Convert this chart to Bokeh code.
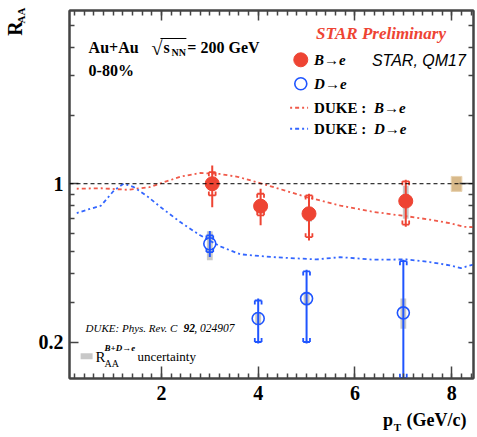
import numpy as np
from bokeh.plotting import figure
from bokeh.models import (FixedTicker, LinearAxis, LogAxis, Span, Label,
                          BoxAnnotation, CustomJSTickFormatter,
                          CustomLabelingPolicy)
from bokeh.embed import file_html
from bokeh.resources import INLINE

# ---------------- data ----------------
b_pt = [3.05, 4.05, 5.05, 7.05]
b_raa = [1.00, 0.796, 0.737, 0.838]
b_stat_hi = [1.205, 0.95, 0.903, 1.04]
b_stat_lo = [0.788, 0.655, 0.562, 0.645]
b_sys_hi = [1.125, 0.903, 0.888, 1.025]
b_sys_lo = [0.888, 0.725, 0.581, 0.66]
b_unc_hi = [1.07, 0.85, 0.79, 0.98]
b_unc_lo = [0.93, 0.74, 0.68, 0.70]

d_pt = [3.0, 4.0, 5.0, 7.0]
d_raa = [0.543, 0.254, 0.311, 0.269]
d_stat_hi = [0.618, 0.311, 0.417, 0.462]
d_stat_lo = [0.475, 0.197, 0.197, 0.05]
d_sys_hi = [0.591, 0.305, 0.41, 0.455]
d_sys_lo = [0.499, 0.200, 0.200, 0.139]
d_unc_hi = [0.617, 0.271, 0.333, 0.311]
d_unc_lo = [0.459, 0.237, 0.290, 0.229]

norm_pt = [8.1]
norm_hi = [1.077]
norm_lo = [0.925]

duke_b_pt = [0.25, 0.75, 1.3, 1.75, 2.05, 2.4, 2.8, 3.2, 3.6, 4.2, 5.0, 5.7,
             6.4, 7.1, 7.55, 7.95, 8.25, 8.45]
duke_b_raa = [0.95, 0.955, 0.94, 0.965, 1.015, 1.075, 1.115, 1.105, 1.07, 0.983,
              0.873, 0.80, 0.75, 0.717, 0.694, 0.67, 0.645, 0.643]
duke_d_pt = [0.25, 0.47, 0.75, 1.02, 1.22, 1.43, 1.71, 1.98, 2.39, 2.8, 3.22,
             3.63, 4.32, 5.21, 5.69, 6.38, 7.07, 7.55, 7.96, 8.19, 8.45]
duke_d_raa = [0.742, 0.768, 0.80, 0.934, 1.0, 0.966, 0.879, 0.789, 0.677, 0.592,
              0.528, 0.488, 0.474, 0.463, 0.474, 0.462, 0.463, 0.451, 0.436,
              0.424, 0.44]

x_major = [2, 4, 6, 8]
x_minor = [round(0.2 * i, 1) for i in range(1, 43)]
y_major = [0.2, 1]
y_minor = [0.3, 0.4, 0.5, 0.6, 0.7, 0.8, 0.9, 2, 3, 4, 5]

RED = "#ee4433"
BLUE = "#1f55ff"
GREY = "#c8c8c8"
AXC = "#444444"
SERIF = "Liberation Serif"


# page-pixel -> data helpers (for annotation placement only)
def dx(px):
    return 2 + (px - 161) / 48.5


def dy(py):
    return 10 ** ((183.3 - py) / 226.6)


p = figure(width=477, height=437, x_range=(0.1, 8.45), y_range=(0.138, 5.82),
           y_axis_type="log", output_backend="svg", toolbar_location=None,
           min_border_left=69, min_border_right=3, min_border_top=10,
           min_border_bottom=59)
p.grid.visible = False
p.outline_line_color = AXC
p.outline_line_width = 2
p.background_fill_color = "white"


def style_axis(ax, maj_in, min_in, labels=True):
    ax.major_tick_in = maj_in
    ax.major_tick_out = 0
    ax.minor_tick_in = min_in
    ax.minor_tick_out = 0
    ax.axis_line_color = AXC
    ax.axis_line_width = 2
    ax.major_tick_line_color = AXC
    ax.minor_tick_line_color = AXC
    ax.major_tick_line_width = 1.5
    ax.minor_tick_line_width = 1.5
    ax.major_label_text_font = SERIF
    ax.major_label_text_font_style = "bold"
    ax.major_label_text_font_size = "20px"
    ax.major_label_text_color = "black"
    if not labels:
        ax.major_label_policy = CustomLabelingPolicy(
            code="for (const i of indices) { indices.unset(i) }")
        ax.major_label_standoff = 0
        ax.major_label_text_font_size = "1px"


xt = FixedTicker(ticks=x_major, minor_ticks=x_minor)
yt = FixedTicker(ticks=y_major, minor_ticks=y_minor)

xa = p.xaxis[0]
xa.ticker = xt
style_axis(xa, 12, 5)
xa.major_label_standoff = 7

ya = p.yaxis[0]
ya.ticker = yt
ya.formatter = CustomJSTickFormatter(code="return tick.toString();")
style_axis(ya, 9, 5)
ya.major_label_standoff = 6

top = LinearAxis(ticker=FixedTicker(ticks=x_major, minor_ticks=x_minor))
style_axis(top, 10, 5, labels=False)
p.add_layout(top, "above")

right = LogAxis(ticker=FixedTicker(ticks=[1], minor_ticks=[0.2] + y_minor))
style_axis(right, 14, 5, labels=False)
p.add_layout(right, "right")

# uncertainty boxes (grey)
wq = 0.06
p.quad(left=np.array(d_pt) - wq, right=np.array(d_pt) + wq, bottom=d_unc_lo,
       top=d_unc_hi, fill_color=GREY, line_color=None)
p.quad(left=np.array(b_pt) - wq, right=np.array(b_pt) + wq, bottom=b_unc_lo,
       top=b_unc_hi, fill_color=GREY, line_color=None)

# normalization box
p.quad(left=np.array(norm_pt) - 0.11, right=np.array(norm_pt) + 0.11,
       bottom=norm_lo, top=norm_hi, fill_color="#d8b98a", line_color="#e8d2b0")

# model curves
p.line(duke_b_pt, duke_b_raa, line_color="#f05a4a", line_width=1.8,
       line_dash="2 3 4 3")
p.line(duke_d_pt, duke_d_raa, line_color="#3366ff", line_width=1.8,
       line_dash="2 3 4 3")

p.add_layout(Span(location=1, dimension="width", line_color="black",
                  line_width=1, line_dash="4 3"))


def brackets(x, hi, lo, color):
    x = np.array(x, dtype=float)
    hi = np.array(hi, dtype=float)
    lo = np.array(lo, dtype=float)
    w = 0.07
    leg = 10 ** (4 / 226.6)
    x0 = np.concatenate([x - w, x - w, x + w, x - w, x - w, x + w])
    x1 = np.concatenate([x + w, x - w, x + w, x + w, x - w, x + w])
    y0 = np.concatenate([hi, hi, hi, lo, lo, lo])
    y1 = np.concatenate([hi, hi / leg, hi / leg, lo, lo * leg, lo * leg])
    p.segment(x0, y0, x1, y1, line_color=color, line_width=1.8)


# stat errors
p.segment(b_pt, b_stat_lo, b_pt, b_stat_hi, line_color=RED, line_width=2)
p.segment(d_pt, d_stat_lo, d_pt, d_stat_hi, line_color=BLUE, line_width=2)
brackets(b_pt, b_sys_hi, b_sys_lo, RED)
brackets(d_pt, d_sys_hi, d_sys_lo, BLUE)

p.scatter(b_pt, b_raa, size=14, fill_color=RED, line_color=RED)
p.scatter(d_pt, d_raa, size=12, fill_color=None, line_color=BLUE, line_width=1.6)


def lab(text, px, py, size, style="normal", font=SERIF, color="black",
        align="left", angle=0, place="center"):
    lbl = Label(x=dx(px), y=dy(py), text=text, text_font=font,
                text_font_size=f"{size}px", text_font_style=style,
                text_color=color, text_align=align,
                text_baseline="middle", angle=angle)
    if place == "center":
        p.add_layout(lbl)
    else:
        p.add_layout(lbl, place)


# header texts
lab("Au+Au", 88, 47, 16, "bold")
lab("√", 151, 47, 20)
p.add_layout(BoxAnnotation(left=dx(160), right=dx(186), bottom=dy(38.4),
                           top=dy(37.4), fill_color="black", fill_alpha=1,
                           line_color=None))
lab("s", 163, 47, 16, "bold")
lab("NN", 171, 52, 10, "bold")
lab("= 200 GeV", 187, 47, 16, "bold")
lab("0-80%", 88, 70, 16, "bold")

lab("STAR Preliminary", 316, 33, 17, "bold italic", color=RED)
lab("STAR, QM17", 372, 60, 16, "italic", font="Liberation Sans")

# legend markers
p.scatter([dx(300.7)], [dy(59.3)], size=14, fill_color=RED, line_color=RED)
p.scatter([dx(300.7)], [dy(83.3)], size=12, fill_color=None, line_color=BLUE,
          line_width=1.6)
p.line([dx(290), dx(308)], [dy(107.3), dy(107.3)], line_color="#f05a4a",
       line_width=1.8, line_dash="2 3 4 3")
p.line([dx(290), dx(308)], [dy(128.3), dy(128.3)], line_color="#3366ff",
       line_width=1.8, line_dash="2 3 4 3")
lab("B→e", 314, 60, 15, "bold italic")
lab("D→e", 314, 84, 15, "bold italic")
lab("DUKE :", 314, 108, 15, "bold")
lab("B→e", 374, 108, 15, "bold italic")
lab("DUKE :", 314, 129, 15, "bold")
lab("D→e", 374, 129, 15, "bold italic")

# bottom-left texts
lab("DUKE: Phys. Rev. C", 85, 328, 11, "italic")
lab("92", 183, 328, 11.5, "bold italic")
lab(", 024907", 194, 328, 11.5, "italic")
p.add_layout(BoxAnnotation(left=dx(80), right=dx(92), bottom=dy(359),
                           top=dy(353), fill_color=GREY, fill_alpha=1,
                           line_color=None))
lab("R", 95, 357, 15)
lab("AA", 104, 363, 10)
lab("B+D→e", 104, 348, 9, "bold italic")
lab("uncertainty", 137, 356, 13)

# axis titles (outside the frame -> side panels)
lab("R", 14, 28, 20, "bold", align="center", angle=np.pi / 2, place="left")
lab("AA", 20, 15, 11, "bold", align="center", angle=np.pi / 2, place="left")
lab("p\u00a0\u00a0\u00a0(GeV/c)", 383, 420, 18, "bold", place="below")
lab("T", 394, 427, 11, "bold", place="below")

open("out.html", "w").write(file_html(p, INLINE))
